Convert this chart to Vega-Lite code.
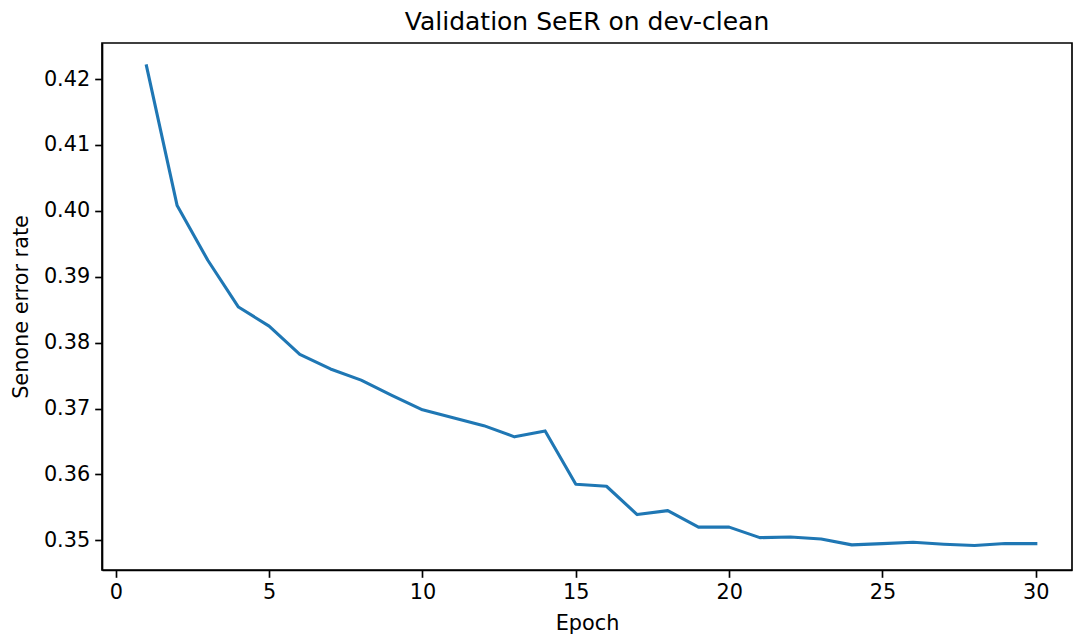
{
  "$schema": "https://vega.github.io/schema/vega-lite/v6.json",
  "width": 970,
  "height": 527,
  "autosize": {"type": "none"},
  "padding": {"left": 102, "top": 43, "right": 1, "bottom": 67},
  "background": "white",
  "title": {
    "text": "Validation SeER on dev-clean",
    "font": "DejaVu Sans",
    "fontSize": 25,
    "fontWeight": "normal",
    "color": "black",
    "anchor": "middle",
    "frame": "group",
    "offset": 8
  },
  "data": {
    "values": [
      {"epoch": 1, "seer": 0.4220},
      {"epoch": 2, "seer": 0.4008},
      {"epoch": 3, "seer": 0.3925},
      {"epoch": 4, "seer": 0.3854},
      {"epoch": 5, "seer": 0.3825},
      {"epoch": 6, "seer": 0.3782},
      {"epoch": 7, "seer": 0.3760},
      {"epoch": 8, "seer": 0.3743},
      {"epoch": 9, "seer": 0.3720},
      {"epoch": 10, "seer": 0.3698},
      {"epoch": 11, "seer": 0.3686},
      {"epoch": 12, "seer": 0.3674},
      {"epoch": 13, "seer": 0.3657},
      {"epoch": 14, "seer": 0.3666},
      {"epoch": 15, "seer": 0.3585},
      {"epoch": 16, "seer": 0.3582},
      {"epoch": 17, "seer": 0.3539},
      {"epoch": 18, "seer": 0.3545},
      {"epoch": 19, "seer": 0.3520},
      {"epoch": 20, "seer": 0.3520},
      {"epoch": 21, "seer": 0.3504},
      {"epoch": 22, "seer": 0.3505},
      {"epoch": 23, "seer": 0.3502},
      {"epoch": 24, "seer": 0.3493},
      {"epoch": 25, "seer": 0.3495},
      {"epoch": 26, "seer": 0.3497},
      {"epoch": 27, "seer": 0.3494},
      {"epoch": 28, "seer": 0.3492},
      {"epoch": 29, "seer": 0.3495},
      {"epoch": 30, "seer": 0.3495}
    ]
  },
  "mark": {"type": "line", "color": "#1f77b4", "strokeWidth": 3.1, "strokeCap": "square", "strokeJoin": "round", "clip": true},
  "encoding": {
    "x": {
      "field": "epoch",
      "type": "quantitative",
      "title": "Epoch",
      "scale": {"domain": [-0.45, 31.18], "nice": false, "zero": false},
      "axis": {"values": [0, 5, 10, 15, 20, 25, 30], "format": "d", "titlePadding": 11}
    },
    "y": {
      "field": "seer",
      "type": "quantitative",
      "title": "Senone error rate",
      "scale": {"domain": [0.34549, 0.42547], "nice": false, "zero": false},
      "axis": {"values": [0.35, 0.36, 0.37, 0.38, 0.39, 0.40, 0.41, 0.42], "format": ".2f", "titlePadding": 12}
    }
  },
  "config": {
    "font": "DejaVu Sans",
    "view": {"stroke": "black", "strokeWidth": 1.67},
    "axis": {
      "grid": false,
      "labelFont": "DejaVu Sans",
      "labelFontSize": 20.8,
      "labelColor": "black",
      "labelPadding": 5,
      "tickSize": 7.3,
      "tickWidth": 1.67,
      "tickColor": "black",
      "domainColor": "black",
      "domainWidth": 1.67,
      "titleFont": "DejaVu Sans",
      "titleFontSize": 20.8,
      "titleFontWeight": "normal",
      "titleColor": "black",
      "labelFlush": false,
      "labelOverlap": false
    }
  }
}
